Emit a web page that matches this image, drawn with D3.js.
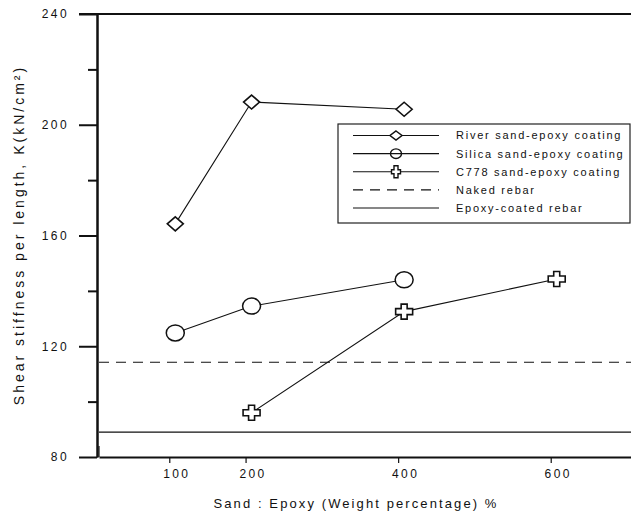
<!DOCTYPE html>
<html><head><meta charset="utf-8">
<script src="https://cdn.jsdelivr.net/npm/d3@7"></script>
<style>
body{margin:0;background:#fff}
svg{display:block}
text{font-family:"Liberation Sans",Arial,Helvetica,sans-serif;fill:#111}
</style>
</head><body>
<svg id="chart" width="631" height="514"></svg>
<script>
// ---- data ----
const xTickValues = [100, 200, 400, 600];
const yMajorTicks = [80, 120, 160, 200, 240];
const yMinorTicks = [100, 140, 180, 220];
const riverX = [100, 200, 400];
const riverY = [164.2, 208.2, 205.6];
const silicaX = [100, 200, 400];
const silicaY = [124.8, 134.5, 144.0];
const c778X = [200, 400, 600];
const c778Y = [96.0, 132.5, 144.3];
const nakedRebar = 114.2;
const epoxyCoatedRebar = 89.0;
const legendLabels = ["River sand-epoxy coating", "Silica sand-epoxy coating", "C778 sand-epoxy coating", "Naked rebar", "Epoxy-coated rebar"];
const xTitle = "Sand : Epoxy (Weight percentage) %";
const yTitle = "Shear stiffness per length, K(kN/cm\u00B2)";

// ---- layout ----
const svg = d3.select("#chart");
const axisX = 97;            // y axis position
const x = d3.scaleLinear().domain([0, 700]).range([99, 633]);
const y = d3.scaleLinear().domain([80, 240]).range([457, 14]);

const diamondPath = "M0,-7L8,0L0,7L-8,0Z";
const plusPath = (h, v, w) => `M${-w},${-v}H${w}V${-w}H${h}V${w}H${w}V${v}H${-w}V${w}H${-h}V${-w}H${-w}Z`;
const bigPlus = plusPath(8.5, 7.5, 3);
const smallPlus = plusPath(4.5, 6, 2);

// ---- reference lines ----
svg.append("line")
  .attr("x1", x(0)).attr("x2", 631)
  .attr("y1", y(nakedRebar)).attr("y2", y(nakedRebar))
  .attr("stroke", "#111").attr("stroke-width", 1.1).attr("stroke-dasharray", "10,7");
svg.append("line")
  .attr("x1", x(0)).attr("x2", 631)
  .attr("y1", y(epoxyCoatedRebar)).attr("y2", y(epoxyCoatedRebar))
  .attr("stroke", "#111").attr("stroke-width", 1.1);

// ---- axes ----
const yMajor = svg.append("g").attr("transform", `translate(${axisX},0)`)
  .call(d3.axisLeft(y).tickValues(yMajorTicks).tickSize(18).tickSizeOuter(0).tickPadding(10));
const yMinor = svg.append("g").attr("transform", `translate(${axisX},0)`)
  .call(d3.axisLeft(y).tickValues(yMinorTicks).tickSize(9).tickSizeOuter(0).tickFormat(""));
[yMajor, yMinor].forEach(g => {
  g.select(".domain").attr("stroke", "#111").attr("stroke-width", 2);
  g.selectAll(".tick line").attr("stroke", "#111").attr("stroke-width", 2);
});
yMajor.selectAll(".tick text").attr("font-size", 12).attr("letter-spacing", "2.4px")
  .attr("fill", "#111").style("font-family", '"Liberation Sans",Arial,sans-serif');

// top frame line (240 level extends to the right)
svg.append("line").attr("x1", 79).attr("x2", 631)
  .attr("y1", y(240)).attr("y2", y(240)).attr("stroke", "#111").attr("stroke-width", 2);

const xAxis = svg.append("g").attr("transform", `translate(0,${y(80)})`)
  .call(d3.axisBottom(x).tickValues(xTickValues).tickSize(6).tickSizeOuter(0).tickPadding(6));
xAxis.select(".domain").attr("stroke", "#111").attr("stroke-width", 2);
xAxis.selectAll(".tick line").attr("stroke", "#111").attr("stroke-width", 1.2).attr("transform", "translate(-6,0)");
xAxis.selectAll(".tick text").attr("font-size", 12).attr("letter-spacing", "2.4px")
  .attr("fill", "#111").attr("dx", "1px").style("font-family", '"Liberation Sans",Arial,sans-serif');
// small upward tick at origin
svg.append("line").attr("x1", x(0)).attr("x2", x(0)).attr("y1", y(80)).attr("y2", y(80) - 11)
  .attr("stroke", "#111").attr("stroke-width", 1.2);

// ---- titles ----
svg.append("text").attr("x", 356).attr("y", 508).attr("text-anchor", "middle")
  .attr("font-size", 13).attr("letter-spacing", "2.1px").text(xTitle);
svg.append("text").attr("transform", "translate(24,235) rotate(-90)").attr("text-anchor", "middle")
  .attr("font-size", 14).attr("letter-spacing", "3px").text(yTitle);

// ---- series ----
const line = d3.line().x(d => x(d[0])).y(d => y(d[1]));
const series = [
  {xs: riverX, ys: riverY, type: "diamond"},
  {xs: silicaX, ys: silicaY, type: "circle"},
  {xs: c778X, ys: c778Y, type: "plus"}
];
series.forEach(s => {
  const pts = s.xs.map((v, i) => [v, s.ys[i]]);
  svg.append("path").datum(pts).attr("d", line)
    .attr("fill", "none").attr("stroke", "#111").attr("stroke-width", 1.1);
  const g = svg.append("g");
  pts.forEach(p => {
    const cx = x(p[0]), cy = y(p[1]);
    if (s.type === "circle") {
      g.append("ellipse").attr("cx", cx).attr("cy", cy).attr("rx", 9).attr("ry", 8)
        .attr("fill", "#fff").attr("stroke", "#111").attr("stroke-width", 1.5);
    } else {
      g.append("path").attr("d", s.type === "diamond" ? diamondPath : bigPlus)
        .attr("transform", `translate(${cx},${cy})`)
        .attr("fill", "#fff").attr("stroke", "#111").attr("stroke-width", 1.6);
    }
  });
});

// ---- legend ----
const lg = svg.append("g");
lg.append("rect").attr("x", 338).attr("y", 124).attr("width", 292).attr("height", 99)
  .attr("fill", "#fff").attr("stroke", "#222").attr("stroke-width", 1.2);
const rowY = d3.scalePoint().domain(legendLabels).range([135.5, 208]);
legendLabels.forEach((lab, i) => {
  const ry = rowY(lab);
  lg.append("line").attr("x1", 353).attr("x2", 439).attr("y1", ry).attr("y2", ry)
    .attr("stroke", "#111").attr("stroke-width", 1.1)
    .attr("stroke-dasharray", i === 3 ? "10,7" : null);
  if (i === 0) {
    lg.append("path").attr("d", "M0,-4.5L6,0L0,4.5L-6,0Z").attr("transform", `translate(396,${ry})`)
      .attr("fill", "#fff").attr("stroke", "#111").attr("stroke-width", 1.5);
  } else if (i === 1) {
    lg.append("ellipse").attr("cx", 396).attr("cy", ry).attr("rx", 5.5).attr("ry", 4.8)
      .attr("fill", "none").attr("stroke", "#111").attr("stroke-width", 1.4);
  } else if (i === 2) {
    lg.append("path").attr("d", smallPlus).attr("transform", `translate(396,${ry})`)
      .attr("fill", "#fff").attr("stroke", "#111").attr("stroke-width", 1.4);
  }
  lg.append("text").attr("x", 456).attr("y", ry).attr("dy", "0.36em")
    .attr("font-size", 11).attr("letter-spacing", "1.75px").text(lab);
});
</script>
</body></html>
